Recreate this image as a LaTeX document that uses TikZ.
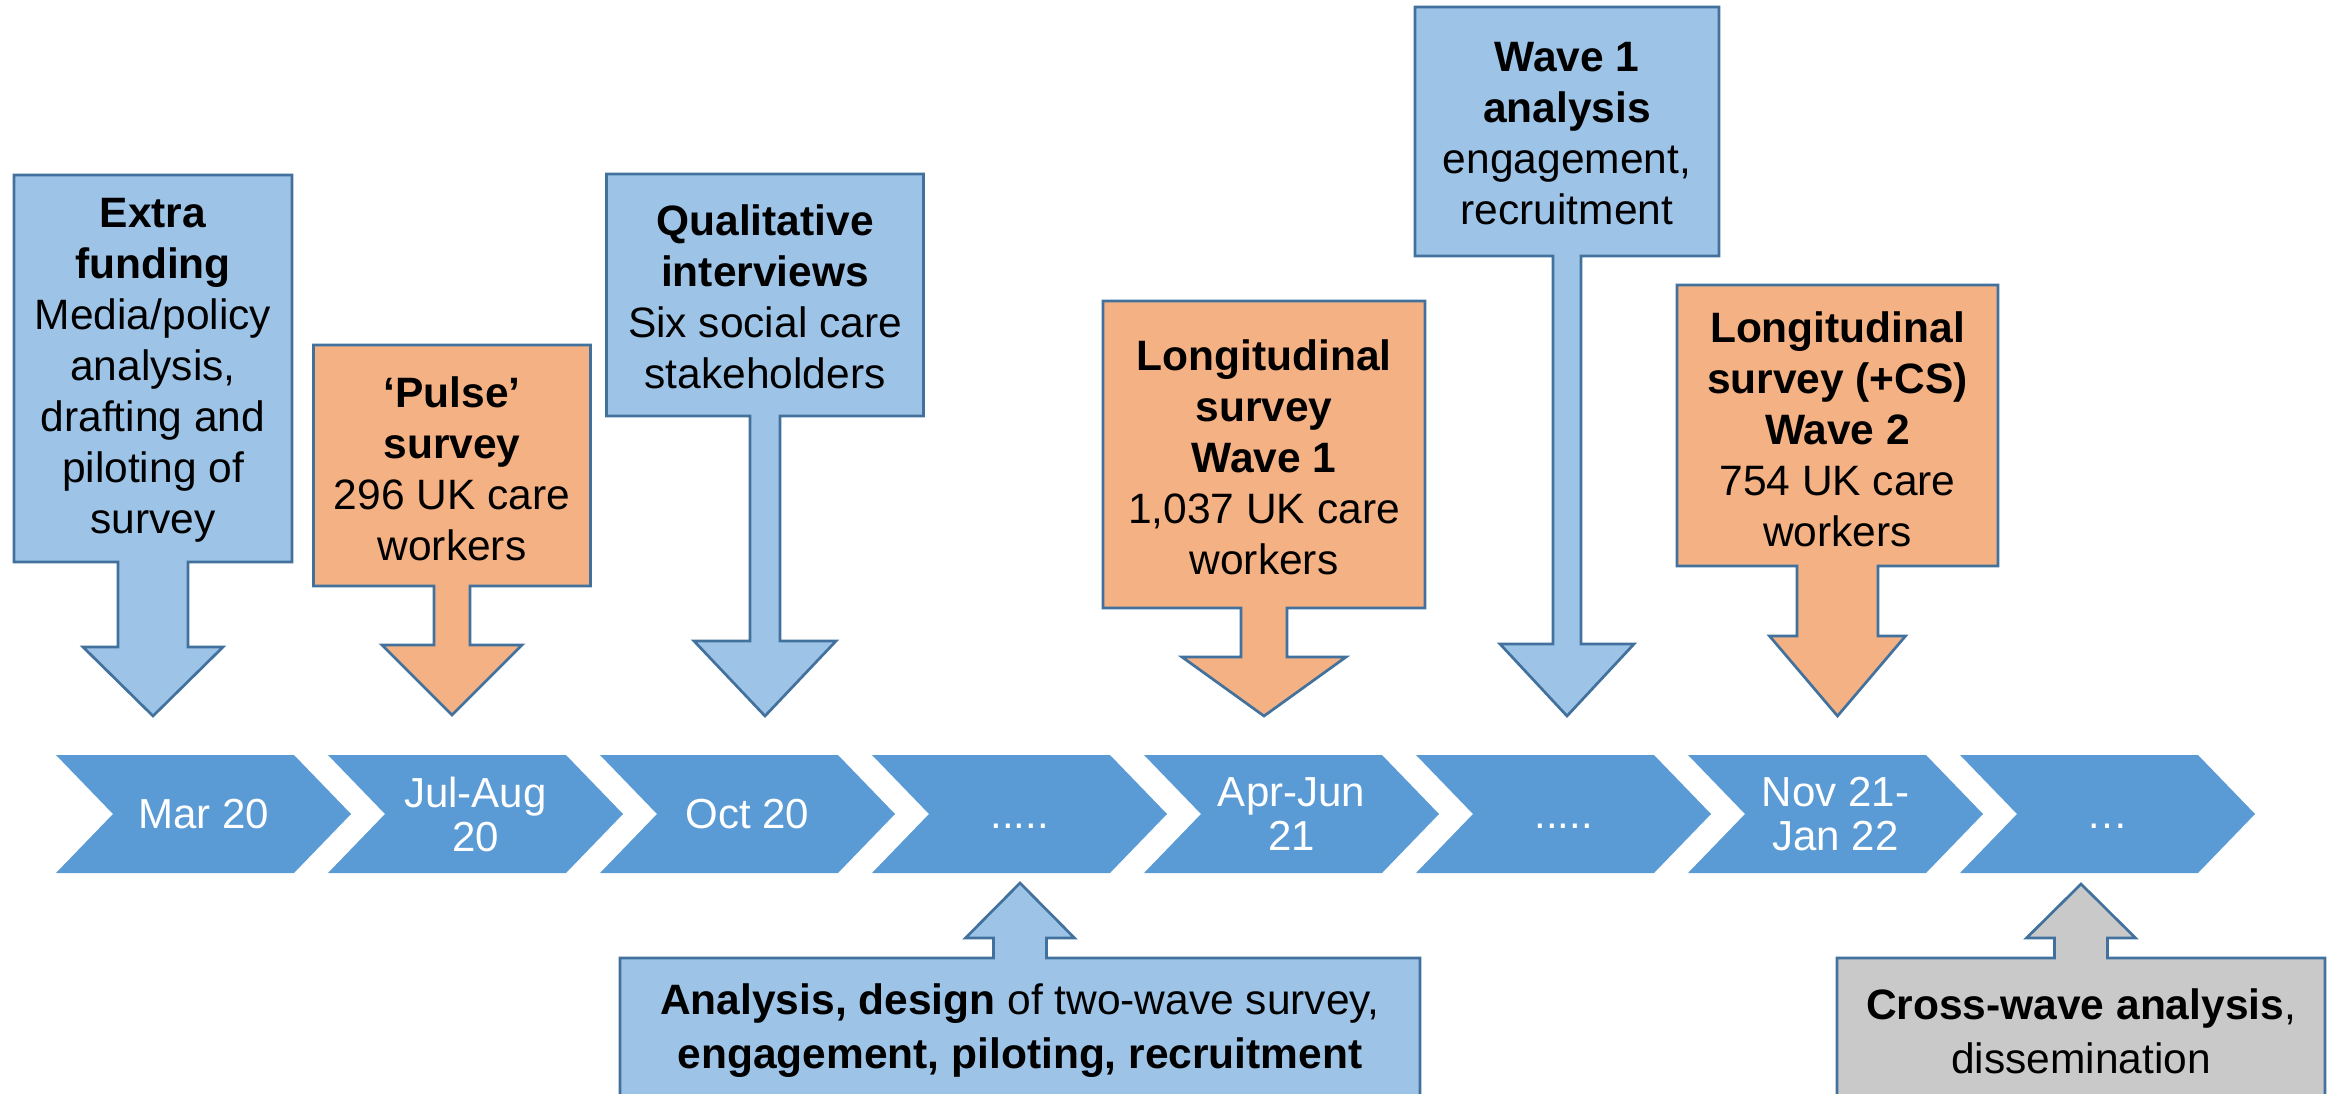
\documentclass[tikz,border=0pt]{standalone}
\usepackage{fontspec}
\setmainfont{Liberation Sans}
\definecolor{stageblue}{HTML}{5B9BD5}
\definecolor{taskblue}{HTML}{9DC3E6}
\definecolor{surveyorange}{HTML}{F4B183}
\definecolor{latergray}{HTML}{C9C9C9}
\definecolor{edgeblue}{HTML}{41719C}

% gaps in the timeline
\newcommand{\longgap}{\vphantom{0}.....}
\newcommand{\shortgap}{\vphantom{0}…}

% box with an arrow pointing at the timeline
% #1 fill, #2 centre x, #3 half width, #4 far edge, #5 arrow edge,
% #6 stem half width, #7 head half width, #8 head base, #9 tip
\newcommand{\eventbox}[9]{%
  \filldraw[eventedge, fill=#1] (#2-#3,#4) -- (#2+#3,#4) -- (#2+#3,#5)
    -- (#2+#6,#5) -- (#2+#6,#8) -- (#2+#7,#8) -- (#2,#9) -- (#2-#7,#8)
    -- (#2-#6,#8) -- (#2-#6,#5) -- (#2-#3,#5) -- cycle;}

\tikzset{
  eventedge/.style={draw=edgeblue, line width=2.7pt, line join=miter},
  chevron/.style={fill=stageblue, draw=none},
  datelab/.style={text=white, align=center, inner sep=0pt,
    font=\fontsize{42}{44}\selectfont},
  eventtext/.style={align=center, inner sep=0pt,
    font=\fontsize{42.5}{51}\selectfont},
  widetext/.style={eventtext, font=\fontsize{42.5}{54}\selectfont}
}

\begin{document}
\begin{tikzpicture}[x=1pt, y=-1pt]
  \clip (0,0) rectangle (2333,1094);

  % timeline
  \foreach \lab [count=\i from 0] in {Mar 20, {Jul-Aug\\20}, Oct 20,
      \longgap, {Apr-Jun\\21}, \longgap, {Nov 21-\\Jan 22}, \shortgap}
  {
    \fill[chevron] (56+272*\i,755) -- ++(238,0) -- ++(57,59) -- ++(-57,59)
      -- ++(-238,0) -- ++(57,-59) -- cycle;
    \node[datelab] (d\i) at (56+272*\i+147.5,814) {\lab};
  }

  % events above the timeline
  \eventbox{taskblue}{153}{139}{175}{562}{35}{70}{647}{716}
  \node[eventtext] (extra) at (153,370)
    {\textbf{Extra}\\\textbf{funding}\\Media/policy\\analysis,\\drafting and\\piloting of\\survey};

  \eventbox{surveyorange}{452}{138.5}{345}{586}{18}{70}{645}{715}
  \node[eventtext] (pulse) at (452,469)
    {\textbf{‘Pulse’}\\\textbf{survey}\\296 UK care\\workers};

  \eventbox{taskblue}{765}{158.5}{174}{416}{15}{71}{641}{716}
  \node[eventtext] (qual) at (765,297)
    {\textbf{Qualitative}\\\textbf{interviews}\\Six social care\\stakeholders};

  \eventbox{surveyorange}{1264}{161}{301}{608}{23}{82}{657}{716}
  \node[eventtext] (wave1) at (1264,457)
    {\textbf{Longitudinal}\\\textbf{survey}\\\textbf{Wave 1}\\1,037 UK care\\workers};

  \eventbox{taskblue}{1567}{152}{7}{256}{14}{67}{644}{716}
  \node[eventtext] (w1analysis) at (1567,134)
    {\textbf{Wave 1}\\\textbf{analysis}\\engagement,\\recruitment};

  \eventbox{surveyorange}{1837.5}{160.5}{285}{566}{40.5}{68}{636}{716}
  \node[eventtext] (wave2) at (1837.5,429)
    {\textbf{Longitudinal}\\\textbf{survey (+CS)}\\\textbf{Wave 2}\\754 UK care\\workers};

  % events below the timeline
  \eventbox{taskblue}{1020}{400}{1140}{958}{26.5}{54.5}{938}{883}
  \node[widetext] (design) at (1020,1031)
    {\textbf{Analysis, design} of two-wave survey,\\\textbf{engagement, piloting, recruitment}};

  \eventbox{latergray}{2081}{244}{1140}{958}{26.5}{54.5}{938}{884}
  \node[widetext] (crosswave) at (2081,1031)
    {\textbf{Cross-wave analysis}, \\dissemination};
\end{tikzpicture}
\end{document}
